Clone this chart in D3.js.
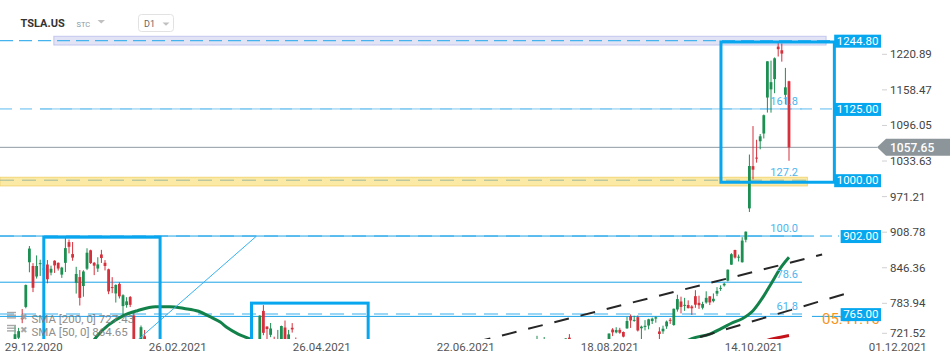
<!DOCTYPE html>
<html>
<head>
<meta charset="utf-8">
<script src="https://cdn.jsdelivr.net/npm/d3@7"></script>
<style>
  body { margin: 0; background: #fff; }
  svg { display: block; font-family: Roboto, "Noto Sans", sans-serif; }
</style>
</head>
<body>
<script>
// Sessions are counted from 04.01.2021 (0) to 09.11.2021 (215); only candles visible in the window are kept
const sessions = [0,1,2,3,4,5,6,7,8,9,10,11,12,13,14,15,16,17,18,19,20,21,22,23,24,25,26,27,28,29,30,31,32,33,35,36,39,
  68,69,70,71,72,73,74,75,76,77,78,
  145,147,153,154,
  165,166,167,168,169,170,171,172,173,174,175,176,177,178,179,180,181,182,183,184,185,186,187,188,189,190,
  191,192,193,194,195,196,197,198,199,200,201,202,203,204,205,206,207,208,209,210,211,212,213,214,215];
const opens = [719.46,723.66,758.49,777.63,856.00,849.40,831.00,852.76,843.39,852.00,837.80,858.74,855.00,834.31,855.00,891.38,870.35,820.00,830.00,814.29,844.68,877.02,855.00,845.00,869.67,855.12,843.64,812.44,801.26,818.00,779.09,780.90,795.00,762.64,711.85,726.15,718.28,
  712.70,770.70,743.10,728.65,719.60,717.42,704.77,741.50,719.80,741.00,717.96,
  700.00,707.30,706.34,723.71,
  714.72,738.00,733.00,737.50,733.60,740.00,761.58,753.41,759.60,740.21,742.57,745.00,752.83,757.15,734.56,734.79,743.53,755.00,745.89,773.12,787.20,779.80,781.00,778.40,796.50,784.80,
  776.20,785.46,796.21,787.65,800.93,810.47,815.49,823.73,851.77,877.53,865.35,856.00,895.50,950.53,1024.69,1039.66,1068.31,1081.86,1145.00,1159.36,1177.33,1234.41,1228.00,1149.79,1173.60];
const highs = [744.49,740.84,774.00,816.99,884.49,854.43,868.00,860.47,863.00,859.90,850.00,859.50,855.72,848.00,900.40,895.90,891.50,848.00,842.41,842.00,880.50,878.08,856.50,864.77,877.77,859.80,844.82,829.88,817.33,821.00,799.84,794.69,796.79,768.50,745.00,737.21,721.11,
  763.00,780.79,743.69,749.41,725.40,737.25,744.84,753.77,737.36,749.30,724.00,
  726.94,724.90,722.80,729.90,
  731.00,740.39,741.99,740.97,734.50,760.20,764.45,762.10,762.61,744.78,754.47,756.86,758.91,761.04,742.00,744.74,753.67,758.20,774.80,799.00,795.64,793.50,789.13,780.78,806.97,797.31,
  786.66,805.00,796.38,801.24,812.32,815.41,820.25,843.21,872.00,877.95,869.49,900.00,910.00,1045.02,1094.94,1070.88,1081.00,1115.21,1208.59,1209.75,1215.39,1243.49,1239.87,1197.00,1174.50];
const lows = [717.19,719.20,749.10,775.20,838.39,803.62,827.34,832.00,838.75,819.10,833.00,837.28,841.42,828.62,838.82,871.60,858.66,801.00,780.10,795.56,842.20,853.06,833.42,838.97,854.75,841.75,800.02,801.73,785.33,792.44,762.01,776.27,777.37,710.20,694.17,670.58,685.00,
  710.66,728.03,721.31,724.60,691.80,710.69,698.00,718.04,715.46,732.61,703.35,
  698.40,705.00,699.40,714.34,
  712.73,726.44,731.27,730.54,724.20,739.26,740.77,751.63,734.52,708.85,736.40,738.36,747.61,750.00,718.62,730.44,739.12,747.92,744.56,769.31,766.18,770.68,775.00,763.59,776.12,774.20,
  773.22,783.38,780.91,785.50,796.57,805.78,813.35,822.35,851.47,862.51,857.38,855.50,890.96,944.20,1001.44,1030.78,1054.20,1073.21,1118.66,1118.50,1152.62,1217.00,1208.00,1133.00,1034.00];
const closes = [729.77,735.11,755.98,816.04,880.02,811.19,849.44,854.41,845.00,826.16,844.55,850.45,844.99,846.64,880.80,883.09,864.16,835.43,793.53,839.81,872.79,854.69,849.99,852.23,863.42,849.46,804.82,811.66,816.12,796.22,798.15,787.38,781.30,714.50,742.02,682.22,686.44,
  762.32,732.23,738.85,739.78,714.63,718.99,744.12,719.69,729.40,738.20,704.74,
  709.67,710.90,722.25,717.17,
  730.91,733.00,737.00,732.39,725.50,752.92,753.87,754.86,736.27,743.00,744.49,755.83,756.99,759.49,730.17,739.38,751.94,753.64,774.39,791.36,777.56,781.31,775.48,775.22,781.53,780.59,
  782.75,793.61,785.49,791.94,805.72,811.08,818.32,843.03,870.11,864.27,865.80,894.00,909.68,1024.86,1018.43,1037.86,1077.04,1114.00,1208.59,1172.00,1213.86,1229.91,1222.09,1162.94,1057.65];

// SMA lines (session, value)
const sma50EarlyIdx = [21.5, 23, 26, 30, 34, 39, 43, 47, 51, 54, 57, 59, 62, 65, 67];
const sma50EarlyVal = [716, 728, 746, 762, 771, 778, 778, 775, 770, 761, 751, 741, 730, 722, 715];
const sma50LateIdx = [186, 188, 193, 196, 199, 202, 205, 208, 210, 213, 215];
const sma50LateVal = [716, 722, 730, 739, 749, 757, 771, 797, 818, 849, 864.65];
const sma200Idx = [208, 210, 213, 215];
const sma200Val = [717, 721, 725, 727.43];

// axes
const priceTicks = [1220.89, 1158.47, 1096.05, 1033.63, 971.21, 908.78, 846.36, 783.94, 721.52];
const dateLabels = ["29.12.2020", "26.02.2021", "26.04.2021", "22.06.2021", "18.08.2021", "14.10.2021", "01.12.2021"];
const dateTickIdx = [5.2, 45.2, 85.2, 125.2, 165.2, 205.2, 245.2];

// drawings
const levelPrices = [1244.80, 1125.00, 1000.00, 902.00, 765.00];
const fibLabels = ["161.8", "127.2", "100.0", "78.6", "61.8"];
const fibPrices = [1125, 1000, 902, 821, 765];
const boxes = [
  { i0: 8, i1: 40.3, top: 900, bottom: 600 },
  { i0: 65.7, i1: 98.1, top: 784.3, bottom: 600 },
  { i0: 196.1, i1: 227.6, top: 1242.5, bottom: 996.4 }
];
const trendLines = [
  { i0: 128, p0: 716, i1: 224.2, p1: 869.5 },
  { i0: 190.3, p0: 724.9, i1: 231.4, p1: 802.1 }
];
const thinLine = { i0: 32, p0: 708, i1: 67.1, p1: 902 };
const lastPrice = 1057.65;
const smaLegend = ["SMA [200, 0] 727.43", "SMA [50, 0] 864.65"];

const width = 950, height = 364;
const green = "#1d8f52", red = "#d5313d", blue = "#07a6ee";

const svg = d3.select("body").append("svg")
  .attr("width", width)
  .attr("height", height);

const x = d3.scaleLinear().domain([0, 215]).range([15, 789]);
const y = d3.scaleLinear().domain([721.52, 1220.89]).range([338.9, 54.3]);

svg.append("defs").append("clipPath").attr("id", "plotClip")
  .append("rect").attr("x", 0).attr("y", 30).attr("width", 882).attr("height", 309);

const plot = svg.append("g").attr("clip-path", "url(#plotClip)");

// top lavender zone and yellow zone
plot.append("rect")
  .attr("x", x(10.8)).attr("width", x(225.3) - x(10.8))
  .attr("y", y(1252.5)).attr("height", y(1237.2) - y(1252.5))
  .attr("fill", "#e2e4f6").attr("stroke", "#c2c6ee");
plot.append("rect")
  .attr("x", 0).attr("width", x(220.1))
  .attr("y", y(1005.1)).attr("height", y(990) - y(1005.1))
  .attr("fill", "#fbe9a6").attr("stroke", "#f2d677");
plot.append("line")
  .attr("x1", 0).attr("x2", x(220.1)).attr("y1", y(1000)).attr("y2", y(1000))
  .attr("stroke", "#9fb89c").attr("stroke-dasharray", "14,8");

// horizontal levels
function hline(p, x1, x2, color, dash, w) {
  plot.append("line")
    .attr("x1", x1).attr("x2", x2).attr("y1", y(p)).attr("y2", y(p))
    .attr("stroke", color).attr("stroke-width", w || 1)
    .attr("stroke-dasharray", dash || null);
}
hline(levelPrices[0], 0, 833, "#45b4ee", "13,6", 1.3);
hline(levelPrices[1], 0, 833, "#5cbcee", "12,8", 1);
hline(levelPrices[1], 40, x(218.6), "#7cc8f0", null, 1);
hline(levelPrices[3], 0, x(218.6), "#9ad6f6", "14,8", 2);
hline(levelPrices[3], 0, x(218.6), "#1ea3e8", null, 1);
hline(levelPrices[3], x(218.6), 839, "#1ea3e8", "12,6", 1);
hline(fibPrices[3], 0, x(218.6), "#1ea3e8", null, 1);
hline(levelPrices[4], 0, x(218.6), "#9ad6f6", "14,8", 2);
hline(761, 0, x(218.6), "#1ea3e8", null, 1);
hline(761, 812, 840, "#1ea3e8", null, 1);
hline(lastPrice, 0, 877, "#8e9aa2", null, 1);

// candles
const candles = sessions.map((s, k) => ({ s, o: opens[k], h: highs[k], l: lows[k], c: closes[k] }));
const col = d => d.c >= d.o ? green : red;
plot.selectAll(".wick").data(candles).join("line")
  .attr("class", "wick")
  .attr("x1", d => x(d.s)).attr("x2", d => x(d.s))
  .attr("y1", d => y(d.h)).attr("y2", d => y(d.l))
  .attr("stroke", col).attr("stroke-width", 1);
plot.selectAll(".body").data(candles).join("rect")
  .attr("class", "body")
  .attr("x", d => x(d.s) - 1.4).attr("width", 2.8)
  .attr("y", d => y(Math.max(d.o, d.c)))
  .attr("height", d => Math.max(1, Math.abs(y(d.o) - y(d.c))))
  .attr("fill", col);

// SMA lines
const smaLine = d3.line().x(d => x(d[0])).y(d => y(d[1])).curve(d3.curveMonotoneX);
[[sma50EarlyIdx, sma50EarlyVal, "#13824a"], [sma50LateIdx, sma50LateVal, "#13824a"], [sma200Idx, sma200Val, "#c4121b"]]
  .forEach(([xs, vs, c]) => {
    plot.append("path")
      .datum(xs.map((v, k) => [v, vs[k]]))
      .attr("d", smaLine)
      .attr("fill", "none").attr("stroke", c).attr("stroke-width", 3);
  });

// trend lines
plot.selectAll(".trend").data(trendLines).join("line")
  .attr("class", "trend")
  .attr("x1", d => x(d.i0)).attr("y1", d => y(d.p0))
  .attr("x2", d => x(d.i1)).attr("y2", d => y(d.p1))
  .attr("stroke", "#262626").attr("stroke-width", 2).attr("stroke-dasharray", "15,12");
plot.append("line")
  .attr("x1", x(thinLine.i0)).attr("y1", y(thinLine.p0))
  .attr("x2", x(thinLine.i1)).attr("y2", y(thinLine.p1))
  .attr("stroke", "#36b1f0").attr("stroke-width", 1);

// boxes
plot.selectAll(".box").data(boxes).join("rect")
  .attr("class", "box")
  .attr("x", d => x(d.i0)).attr("width", d => x(d.i1) - x(d.i0))
  .attr("y", d => y(d.top)).attr("height", d => y(d.bottom) - y(d.top))
  .attr("fill", "none").attr("stroke", blue).attr("stroke-width", 3);

// fibonacci labels
svg.selectAll(".fib").data(fibLabels).join("text")
  .attr("class", "fib")
  .attr("x", x(217.5))
  .attr("y", (d, k) => y(fibPrices[k]) - 4)
  .attr("text-anchor", "end")
  .attr("font-size", 11)
  .attr("fill", "#4db4ee")
  .text(d => d);

// legend
smaLegend.forEach((t, k) => {
  const ly = 322.5 + k * 13;
  const g = svg.append("g").attr("opacity", 0.85);
  [0, 2.7, 5.4].forEach(o => {
    g.append("line").attr("x1", 7).attr("x2", 16).attr("y1", ly - 10 + o).attr("y2", ly - 10 + o)
      .attr("stroke", "#999").attr("stroke-width", 1.4);
  });
  g.append("text").attr("x", 19.5).attr("y", ly - 3).attr("font-size", 9).attr("fill", "#9a9a9a").text("✖");
  g.append("text").attr("x", 31.5).attr("y", ly).attr("font-size", 11.5).attr("fill", "#7a7a7a").text(t);
});

// header
svg.append("text").attr("x", 20.5).attr("y", 27).attr("font-size", 11).attr("font-weight", "bold")
  .attr("fill", "#333").text("TSLA.US");
svg.append("text").attr("x", 76.5).attr("y", 26.7).attr("font-size", 7.5).attr("fill", "#8b98a5").text("STC");
svg.append("path").attr("d", "M97.5,20 L105,20 L101.25,23.5 Z").attr("fill", "#c0c0c0");
svg.append("rect").attr("x", 138.5).attr("y", 14.5).attr("width", 35).attr("height", 17).attr("rx", 3)
  .attr("fill", "#fff").attr("stroke", "#e2e2e2");
svg.append("text").attr("x", 144).attr("y", 26.7).attr("font-size", 9).attr("fill", "#666").text("D1");
svg.append("path").attr("d", "M162.5,22.5 L169.5,22.5 L166,25.8 Z").attr("fill", "#c0c0c0");

// price axis
const labelY = v => Math.min(y(v), 333.3);
svg.selectAll(".ptick").data(priceTicks).join("line")
  .attr("class", "ptick")
  .attr("x1", 882).attr("x2", 887)
  .attr("y1", d => labelY(d)).attr("y2", d => labelY(d))
  .attr("stroke", "#d0d0d0");
svg.selectAll(".plabel").data(priceTicks).join("text")
  .attr("class", "plabel")
  .attr("x", 890).attr("y", d => labelY(d) + 4)
  .attr("font-size", 11.5).attr("fill", "#444")
  .text(d => d.toFixed(2));

// date axis
svg.selectAll(".dlabel").data(dateLabels).join("text")
  .attr("class", "dlabel")
  .attr("x", (d, k) => x(dateTickIdx[k])).attr("y", 350.5)
  .attr("text-anchor", "middle").attr("font-size", 11.5).attr("fill", "#555")
  .text(d => d);

// timer text (behind 765 label)
svg.append("text").attr("x", 822).attr("y", 324).attr("font-size", 15).attr("fill", "#f7941d").text("05:41:10");

// level labels
levelPrices.forEach(p => {
  const g = svg.append("g");
  const t = g.append("text").attr("x", 878.5).attr("y", y(p) + 4.2)
    .attr("text-anchor", "end").attr("font-size", 11.5).attr("fill", "#fff")
    .text(p.toFixed(2));
  const w = t.node().getComputedTextLength() + 5;
  g.insert("rect", "text").attr("x", 881 - w).attr("y", y(p) - 6).attr("width", w).attr("height", 13)
    .attr("fill", "#06a7ef");
});

// last price marker
const ly0 = y(lastPrice);
svg.append("path")
  .attr("d", `M877,${ly0} L886,${ly0 - 8.5} L950,${ly0 - 8.5} L950,${ly0 + 8.5} L886,${ly0 + 8.5} Z`)
  .attr("fill", "#8c9599");
svg.append("text").attr("x", 890).attr("y", ly0 + 4.3).attr("font-size", 12).attr("font-weight", 500)
  .attr("fill", "#fff").text(lastPrice.toFixed(2));
</script>
</body>
</html>
